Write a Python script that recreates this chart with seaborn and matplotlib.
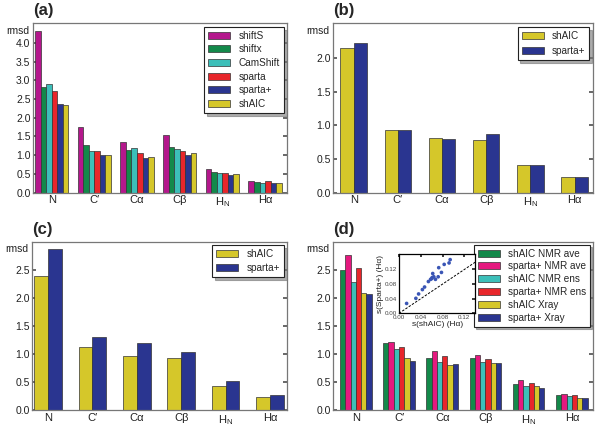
import numpy as np
import pandas as pd
import matplotlib
matplotlib.use("Agg")
import matplotlib.pyplot as plt
import seaborn as sns

atoms = ["N", "C′", "Cα", "Cβ", "H$_{\\rm N}$", "Hα"]

# panel (a)
methods_a = ["shiftS", "shiftx", "CamShift", "sparta", "sparta+", "shAIC"]
shiftS = [4.31, 1.76, 1.34, 1.53, 0.62, 0.32]
shiftx = [2.83, 1.26, 1.15, 1.22, 0.56, 0.28]
camshift = [2.90, 1.12, 1.18, 1.16, 0.52, 0.27]
sparta = [2.70, 1.10, 1.05, 1.10, 0.53, 0.32]
spartap_a = [2.36, 1.00, 0.93, 1.01, 0.46, 0.25]
shaic_a = [2.35, 1.01, 0.96, 1.07, 0.50, 0.27]

# panel (b)
shaic_b = [2.15, 0.93, 0.81, 0.79, 0.41, 0.23]
spartap_b = [2.22, 0.93, 0.80, 0.87, 0.41, 0.23]

# panel (c)
shaic_c = [2.39, 1.13, 0.97, 0.93, 0.43, 0.23]
spartap_c = [2.87, 1.30, 1.19, 1.04, 0.51, 0.27]

# panel (d)
methods_d = ["shAIC NMR ave", "sparta+ NMR ave", "shAIC NMR ens",
             "sparta+ NMR ens", "shAIC Xray", "sparta+ Xray"]
shaic_nmr_ave = [2.50, 1.19, 0.93, 0.93, 0.47, 0.27]
spartap_nmr_ave = [2.77, 1.22, 1.05, 0.98, 0.53, 0.29]
shaic_nmr_ens = [2.28, 1.09, 0.85, 0.86, 0.43, 0.25]
spartap_nmr_ens = [2.53, 1.12, 0.96, 0.90, 0.48, 0.27]
shaic_xray = [2.08, 0.93, 0.81, 0.84, 0.42, 0.22]
spartap_xray = [2.07, 0.87, 0.82, 0.84, 0.40, 0.21]

# inset: per-protein s values for H-alpha
s_shaic = [0.014, 0.031, 0.036, 0.043, 0.047, 0.054, 0.058, 0.061, 0.064,
           0.062, 0.067, 0.072, 0.078, 0.073, 0.083, 0.092, 0.094, 0.060]
s_spartap = [0.027, 0.041, 0.053, 0.065, 0.072, 0.087, 0.093, 0.098, 0.100,
             0.109, 0.093, 0.100, 0.112, 0.125, 0.134, 0.138, 0.147, 0.095]

c_mag = "#b4178c"
c_green = "#13894a"
c_teal = "#3cbfb9"
c_red = "#e8262b"
c_navy = "#2a3590"
c_yel = "#d5c72a"
c_pink = "#e5197f"

sns.set_theme(style="white")
plt.rcParams["font.family"] = ["Liberation Sans", "DejaVu Sans"]
plt.rcParams["mathtext.fontset"] = "custom"
plt.rcParams["mathtext.rm"] = "Liberation Sans"
plt.rcParams["mathtext.it"] = "Liberation Sans:italic"


def long_table(names, series):
    rows = []
    for name, vals in zip(names, series):
        for atom, v in zip(atoms, vals):
            rows.append({"atom": atom, "rmsd": v, "method": name})
    return pd.DataFrame(rows)


def panel(ax, df, names, colors, width, xlim, ylim, yticks, letter, legend_kw):
    sns.barplot(data=df, x="atom", y="rmsd", hue="method", hue_order=names,
                palette=colors, width=width, edgecolor="#333333", linewidth=0.5,
                saturation=1, ax=ax)
    ax.set_xlim(*xlim)
    ax.set_ylim(*ylim)
    ax.set_yticks(yticks)
    ax.set_yticklabels([f"{t:.1f}" for t in yticks])
    ax.set_xlabel("")
    ax.set_ylabel("")
    ax.tick_params(axis="y", direction="in", length=3, right=True, left=True,
                   labelsize=7.5, colors="#555555", labelcolor="#222222", pad=2)
    ax.tick_params(axis="x", length=0, labelsize=8, labelcolor="#222222", pad=2)
    for sp in ax.spines.values():
        sp.set_color("#777777")
        sp.set_linewidth(0.9)
    ax.text(-0.015, 0.985, "rmsd", transform=ax.transAxes, ha="right", va="top",
            fontsize=7.5, color="#222222")
    ax.text(0.0, 1.03, letter, transform=ax.transAxes, ha="left", va="bottom",
            fontsize=12, fontweight="bold")
    sns.move_legend(ax, "upper right", title=None, frameon=True,
                    shadow={"color": "#777777", "alpha": 0.6},
                    fancybox=False, fontsize=7.2, handlelength=2.2,
                    edgecolor="#222222", **legend_kw)
    ax.get_legend().get_frame().set_linewidth(0.8)


fig = plt.figure(figsize=(6, 4.28), dpi=100)
ax_a = fig.add_axes([0.0555, 0.5498, 0.4233, 0.3958])
ax_b = fig.add_axes([0.5555, 0.5498, 0.4323, 0.3958])
ax_c = fig.add_axes([0.0538, 0.0421, 0.4250, 0.3932])
ax_d = fig.add_axes([0.5555, 0.0421, 0.4323, 0.3932])

df_a = long_table(methods_a, [shiftS, shiftx, camshift, sparta, spartap_a, shaic_a])
panel(ax_a, df_a, methods_a, [c_mag, c_green, c_teal, c_red, c_navy, c_yel],
      0.78, (-0.43, 5.52), (0, 4.52), np.arange(0, 4.01, 0.5), "(a)",
      dict(labelspacing=0.36, borderaxespad=0.35))

df_b = long_table(["shAIC", "sparta+"], [shaic_b, spartap_b])
panel(ax_b, df_b, ["shAIC", "sparta+"], [c_yel, c_navy],
      0.6, (-0.46, 5.41), (0, 2.52), np.arange(0, 2.01, 0.5), "(b)",
      dict(labelspacing=0.5, borderaxespad=0.35))

df_c = long_table(["shAIC", "sparta+"], [shaic_c, spartap_c])
panel(ax_c, df_c, ["shAIC", "sparta+"], [c_yel, c_navy],
      0.62, (-0.354, 5.39), (0, 3.0), np.arange(0, 2.51, 0.5), "(c)",
      dict(labelspacing=0.4, borderaxespad=0.35))

df_d = long_table(methods_d, [shaic_nmr_ave, spartap_nmr_ave, shaic_nmr_ens,
                              spartap_nmr_ens, shaic_xray, spartap_xray])
panel(ax_d, df_d, methods_d, [c_green, c_pink, c_teal, c_red, c_yel, c_navy],
      0.73, (-0.52, 5.48), (0, 3.0), np.arange(0, 2.51, 0.5), "(d)",
      dict(labelspacing=0.28, borderaxespad=0.3))

# inset scatter in (d)
ins = fig.add_axes([0.665, 0.268, 0.127, 0.139])
sns.scatterplot(x=s_shaic, y=s_spartap, ax=ins, color="#3a55b5", s=7,
                edgecolor="none")
ins.plot([0, 0.14], [0, 0.14], ls="--", color="black", lw=0.7, dashes=(2.5, 1.5))
ins.set_xlim(0, 0.14)
ins.set_ylim(0, 0.163)
ins.set_xticks([0.0, 0.04, 0.08, 0.12])
ins.set_yticks([0.0, 0.04, 0.08, 0.12])
ins.set_xticklabels(["0.00", "0.04", "0.08", "0.12"])
ins.set_yticklabels(["0.00", "0.04", "0.08", "0.12"])
ins.tick_params(direction="in", length=2, top=True, right=True, labelsize=4.5,
                labelcolor="#444444", pad=1.5)
for sp in ins.spines.values():
    sp.set_color("black")
    sp.set_linewidth(0.9)
ins.set_xlabel("s(shAIC) (Hα)", fontsize=6, labelpad=0.5, color="#222222")
ins.set_ylabel("s(Sparta+) (Hα)", fontsize=6, labelpad=0.5, color="#222222")

fig.savefig("out.png", dpi=100)
